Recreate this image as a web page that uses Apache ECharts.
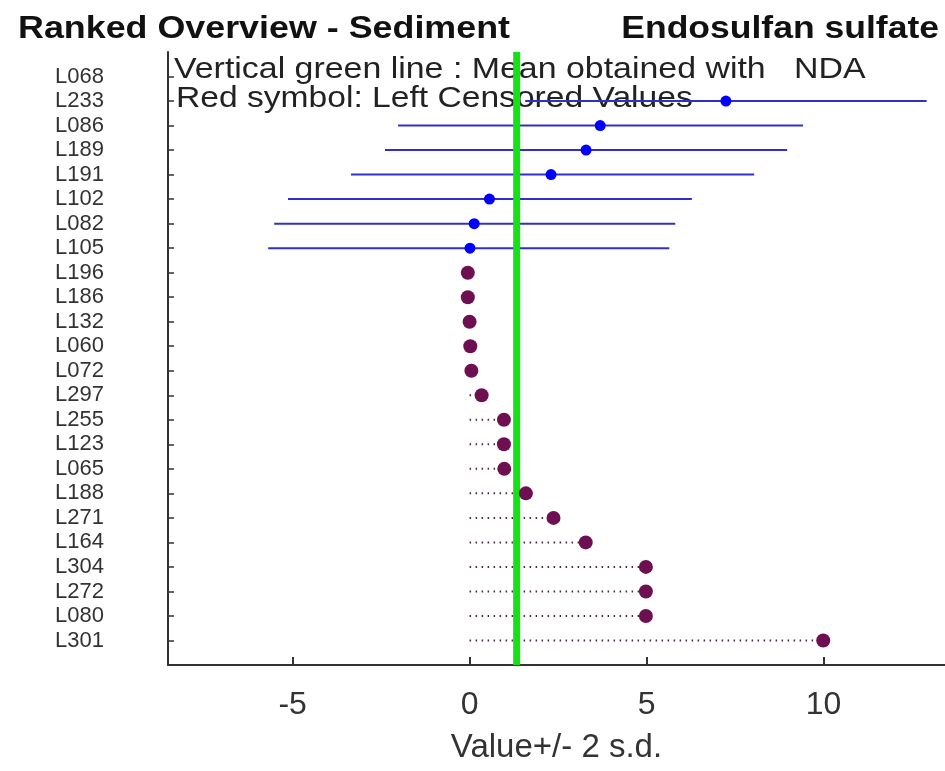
<!DOCTYPE html>
<html><head><meta charset="utf-8">
<script src="https://cdn.jsdelivr.net/npm/echarts@6/dist/echarts.min.js"></script>
<style>html,body{margin:0;padding:0;background:#fff}#c{width:945px;height:771px}</style>
</head><body><div id="c"></div>
<script>
// Lab codes, ranked top to bottom
const labs = ['L068','L233','L086','L189','L191','L102','L082','L105','L196','L186','L132','L060','L072','L297','L255','L123','L065','L188','L271','L164','L304','L272','L080','L301'];
// Reported values (L068 not visible in plotted range)
const values = [null,7.24,3.69,3.29,2.30,0.56,0.13,0.01,-0.05,-0.05,0.00,0.02,0.05,0.34,0.97,0.97,0.98,1.59,2.37,3.28,4.98,4.98,4.98,9.99];
// Value - 2 s.d. and Value + 2 s.d.
const lower2sd = [null,1.57,-2.02,-2.39,-3.35,-5.13,-5.52,-5.69,null,null,null,null,null,null,null,null,null,null,null,null,null,null,null,null];
const upper2sd = [null,12.91,9.42,8.97,8.04,6.28,5.81,5.64,null,null,null,null,null,null,null,null,null,null,null,null,null,null,null,null];
// 1 = left censored value
const censored = [0,0,0,0,0,0,0,0,1,1,1,1,1,1,1,1,1,1,1,1,1,1,1,1];
const meanNDA = 1.33;
const xTickValues = [-5,0,5,10];
const xAxisName = 'Value+/- 2 s.d.';
const titleLeft = 'Ranked Overview - Sediment';
const titleRight = 'Endosulfan sulfate';
const legendLine1 = 'Vertical green line : Mean obtained with   NDA';
const legendLine2 = 'Red symbol: Left Censored Values';

const idx = labs.map((_, i) => i);
const errData = [], censData = [], bluePts = [], redPts = [];
labs.forEach((l, i) => {
  if (values[i] == null) return;
  if (censored[i]) {
    censData.push([0, values[i], i]);
    redPts.push([values[i], i]);
  } else {
    if (lower2sd[i] != null) errData.push([lower2sd[i], upper2sd[i], i]);
    bluePts.push([values[i], i]);
  }
});

const chart = echarts.init(document.getElementById('c'), null, {renderer: 'canvas'});
const FF = '"Liberation Sans", Arial, sans-serif';
chart.setOption({
  animation: false,
  backgroundColor: '#fff',
  grid: {left: 168, right: 0, top: 52, bottom: 106, containLabel: false},
  xAxis: {
    type: 'value', min: -8.52, max: 13.43,
    name: xAxisName, nameLocation: 'middle', nameGap: 66,
    nameTextStyle: {fontSize: 33, color: '#333', fontFamily: FF},
    axisLine: {show: true, onZero: false, lineStyle: {color: '#333', width: 2}},
    axisTick: {show: true, inside: true, length: 8, customValues: xTickValues, lineStyle: {color: '#333', width: 2}},
    axisLabel: {customValues: xTickValues, fontSize: 32, color: '#333', margin: 24, fontFamily: FF},
    splitLine: {show: false}
  },
  yAxis: {
    type: 'value', min: -1, max: 24, inverse: true,
    axisLine: {show: true, onZero: false, lineStyle: {color: '#333', width: 2}},
    axisTick: {show: true, inside: true, length: 6, customValues: idx, lineStyle: {color: '#333', width: 1.5}},
    axisLabel: {customValues: idx, formatter: v => labs[v] || '', fontSize: 22, color: '#333', align: 'left', margin: 113, fontFamily: FF},
    splitLine: {show: false}
  },
  graphic: [
    {type: 'text', left: 18, top: 13, style: {text: titleLeft, font: 'bold 32px ' + FF, fill: '#111'}, scaleX: 1.12, z: 100},
    {type: 'text', right: 6, top: 13, style: {text: titleRight, font: 'bold 32px ' + FF, fill: '#111'}, scaleX: 1.11, z: 100},
    {type: 'text', x: 174, y: 55, style: {text: legendLine1, font: '30px ' + FF, fill: '#222'}, scaleX: 1.13, z: 1},
    {type: 'text', x: 176, y: 84, style: {text: legendLine2, font: '30px ' + FF, fill: '#222'}, scaleX: 1.12, z: 1}
  ],
  series: [
    {
      type: 'custom', name: 'dotted', data: censData, z: 2,
      encode: {x: [0, 1], y: 2},
      renderItem: (p, api) => {
        const a = api.coord([api.value(0), api.value(2)]);
        const b = api.coord([api.value(1), api.value(2)]);
        return {type: 'line', shape: {x1: a[0], y1: a[1], x2: b[0], y2: b[1]},
          style: {stroke: '#4a2a45', lineWidth: 2, lineDash: [1.5, 4.5]}};
      }
    },
    {
      type: 'custom', name: 'errorbars', data: errData, z: 3,
      encode: {x: [0, 1], y: 2},
      renderItem: (p, api) => {
        const a = api.coord([api.value(0), api.value(2)]);
        const b = api.coord([api.value(1), api.value(2)]);
        return {type: 'line', shape: {x1: a[0], y1: a[1], x2: b[0], y2: b[1]},
          style: {stroke: '#3030c8', lineWidth: 2}};
      }
    },
    {
      type: 'line', name: 'mean', data: [[meanNDA, -1], [meanNDA, 24]], z: 5,
      symbol: 'none', lineStyle: {color: '#16e016', width: 7}, silent: true
    },
    {
      type: 'scatter', name: 'reported', data: bluePts, z: 6,
      symbol: 'circle', symbolSize: 11, itemStyle: {color: '#0000ff', opacity: 1}
    },
    {
      type: 'scatter', name: 'censored', data: redPts, z: 6,
      symbol: 'circle', symbolSize: 14, itemStyle: {color: '#6e0f52', opacity: 1}
    }
  ]
});
</script></body></html>
